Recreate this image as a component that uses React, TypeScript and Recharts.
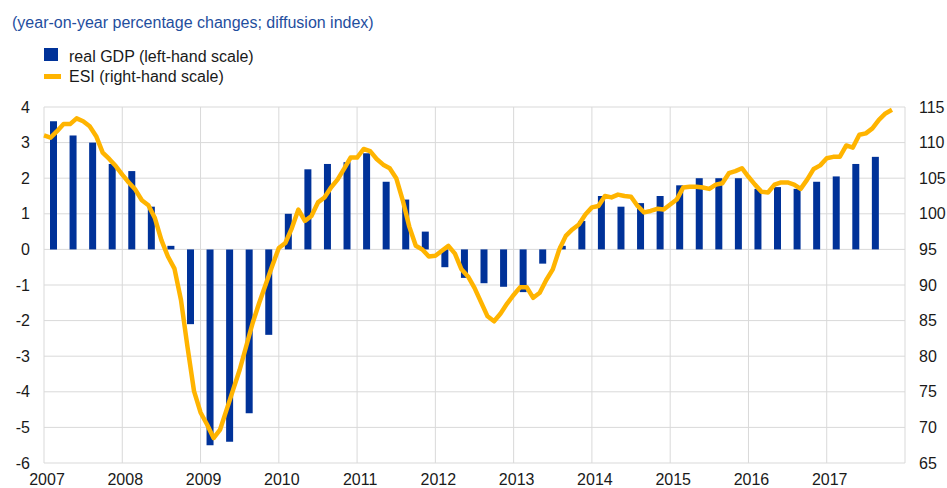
import { ComposedChart, Bar, Line, XAxis, YAxis, CartesianGrid } from "recharts";

const FONT = '"Liberation Sans", Arial, sans-serif';

const years = [2007, 2008, 2009, 2010, 2011, 2012, 2013, 2014, 2015, 2016, 2017, 2018];
const leftTicks = [-6, -5, -4, -3, -2, -1, 0, 1, 2, 3, 4];
const rightTicks = [65, 70, 75, 80, 85, 90, 95, 100, 105, 110, 115];

// real GDP, y-o-y % change, quarterly 2007 Q1 - 2017 Q3
const gdpValues = [
  3.6, 3.2, 3.0, 2.4,
  2.2, 1.2, 0.1, -2.1,
  -5.5, -5.4, -4.6, -2.4,
  1.0, 2.25, 2.4, 2.45,
  2.7, 1.9, 1.4, 0.5,
  -0.5, -0.8, -0.95, -1.05,
  -1.2, -0.4, 0.1, 0.8,
  1.5, 1.2, 1.3, 1.5,
  1.8, 2.0, 2.0, 2.0,
  1.7, 1.75, 1.7, 1.9,
  2.05, 2.4, 2.6,
];

// ESI, monthly Jan 2007 - Nov 2017
const esiValues = [
  111.0, 110.7, 111.6, 112.6, 112.6, 113.4, 113.0, 112.3, 110.9, 108.6, 107.7, 106.7,
  105.5, 104.4, 103.4, 101.9, 101.2, 99.4, 96.3, 94.0, 92.3, 87.9, 81.3, 75.1,
  72.1, 70.4, 68.5, 69.7, 72.5, 75.3, 78.1, 81.4, 84.7, 87.5, 90.1, 92.7,
  95.2, 95.9, 98.0, 100.6, 99.0, 99.7, 101.6, 102.3, 103.7, 104.8, 106.3, 107.9,
  107.9, 109.1, 108.8, 107.7, 106.9, 106.4, 105.0, 101.9, 98.2, 95.5, 95.0, 94.0,
  94.1, 94.8, 95.5, 94.4, 92.2, 91.2, 89.6, 87.6, 85.6, 84.9, 86.0, 87.4,
  88.6, 89.7, 89.7, 88.2, 88.9, 90.7, 92.2, 95.0, 96.9, 97.8, 98.5, 99.9,
  100.9, 101.1, 102.5, 102.3, 102.7, 102.5, 102.4, 101.1, 100.2, 100.4, 100.7, 100.6,
  101.3, 102.0, 103.7, 103.8, 103.8, 103.7, 103.5, 104.1, 104.3, 105.7, 106.0, 106.4,
  105.2, 104.1, 103.1, 103.0, 104.1, 104.4, 104.4, 104.1, 103.5, 104.8, 106.3, 106.8,
  107.8, 108.0, 108.0, 109.6, 109.3, 111.1, 111.3, 112.0, 113.2, 114.1, 114.6,
];

const gdpData = gdpValues.map((v, i) => ({ t: 2007 + (i + 0.5) / 4, gdp: v }));
const esiData = esiValues.map((v, i) => ({ t: 2007 + i / 12, esi: v }));

const tickStyle = { fontSize: 16, fill: "#1a1a1a", fontFamily: FONT };

export default function App() {
  return (
    <div style={{ position: "fixed", left: 0, top: 0, width: 947, height: 488, background: "#fff", fontFamily: FONT }}>
      <div style={{ position: "absolute", left: 0, top: 0 }}>
        <ComposedChart width={947} height={488} data={gdpData} margin={{ top: 107, right: 2, bottom: 0, left: 4 }}>
          <CartesianGrid xAxisId="q" yAxisId="l" stroke="#d9d9d9" />
          <XAxis
            xAxisId="q"
            type="number"
            dataKey="t"
            domain={[2007, 2018]}
            ticks={years}
            interval={0}
            tickFormatter={(v) => (v === 2018 ? "" : String(v))}
            axisLine={false}
            tickLine={false}
            tickSize={6}
            tickMargin={5}
            height={25}
            tick={{ ...tickStyle, dx: 3 }}
          />
          <XAxis xAxisId="m" type="number" dataKey="t" domain={[2007, 2018]} orientation="top" height={0} hide />
          <YAxis
            yAxisId="l"
            domain={[-6, 4]}
            ticks={leftTicks}
            interval={0}
            axisLine={false}
            tickLine={false}
            tickSize={6}
            tickMargin={8}
            width={40}
            tick={tickStyle}
          />
          <YAxis
            yAxisId="r"
            orientation="right"
            domain={[65, 115]}
            ticks={rightTicks}
            interval={0}
            axisLine={false}
            tickLine={false}
            tickSize={6}
            tickMargin={8}
            width={40}
            tick={{ ...tickStyle, textAnchor: "start" }}
          />
          <Bar xAxisId="q" yAxisId="l" dataKey="gdp" fill="#003299" barSize={7} isAnimationActive={false} />
          <Line
            xAxisId="m"
            yAxisId="r"
            data={esiData}
            dataKey="esi"
            type="linear"
            stroke="#FFB400"
            strokeWidth={4.5}
            strokeLinejoin="round"
            dot={false}
            activeDot={false}
            isAnimationActive={false}
          />
        </ComposedChart>
      </div>
      <div style={{ position: "absolute", left: 12, top: 14, fontSize: 16, lineHeight: "18px", color: "#1F4E9E", whiteSpace: "nowrap" }}>
        (year-on-year percentage changes; diffusion index)
      </div>
      <div style={{ position: "absolute", left: 44, top: 48, width: 14, height: 13, background: "#003299" }} />
      <div style={{ position: "absolute", left: 69, top: 48, fontSize: 16, lineHeight: "18px", color: "#1a1a1a", whiteSpace: "nowrap" }}>
        real GDP (left-hand scale)
      </div>
      <div style={{ position: "absolute", left: 44, top: 74, width: 17, height: 5, background: "#FFB400" }} />
      <div style={{ position: "absolute", left: 69, top: 68, fontSize: 16, lineHeight: "18px", color: "#1a1a1a", whiteSpace: "nowrap" }}>
        ESI (right-hand scale)
      </div>
    </div>
  );
}
